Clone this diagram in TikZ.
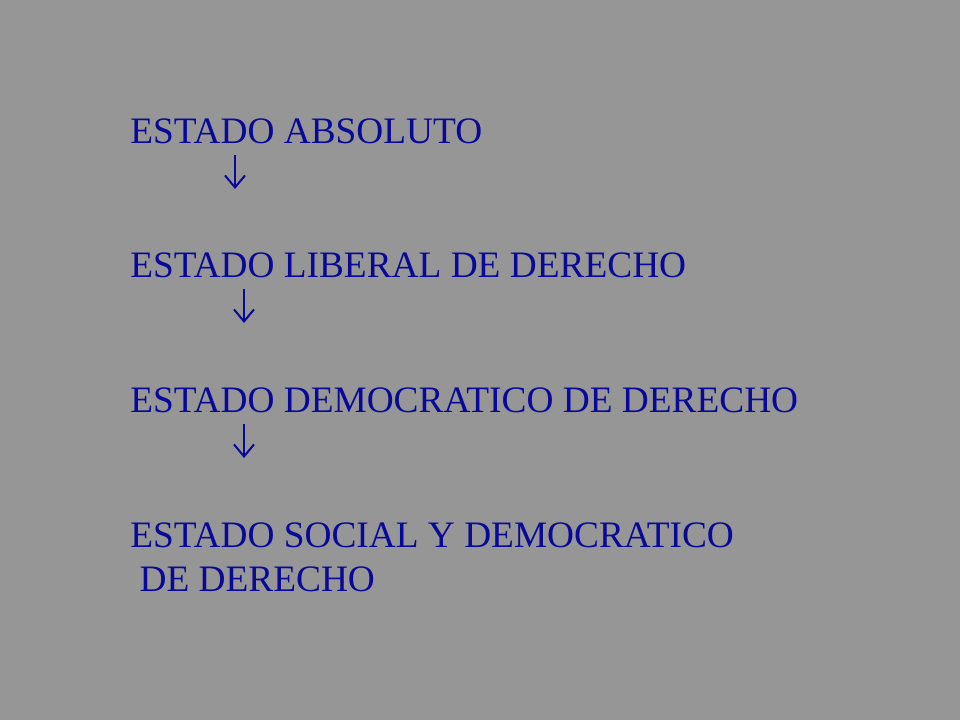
\documentclass[tikz,border=0pt]{standalone}
\usepackage{fontspec}
\setmainfont{Liberation Serif}
\usetikzlibrary{arrows.meta}
\definecolor{bg}{RGB}{150,150,150}
\definecolor{tx}{RGB}{8,8,153}
\begin{document}
\begin{tikzpicture}[x=0.75pt,y=-0.75pt,
  lbl/.style={anchor=base west,inner sep=0pt,text=tx,font=\fontsize{28}{30}\selectfont},
  arr/.style={draw=tx,line width=1.5pt,-{Straight Barb[length=9pt,width=15pt,line width=1.5pt]}}]
\fill[bg] (0,0) rectangle (960,720);
\useasboundingbox (0,0) rectangle (960,720);
\node[lbl] (t1) at (130,144) {ESTADO ABSOLUTO};
\node[lbl] (t2) at (130,277) {ESTADO LIBERAL DE DERECHO};
\node[lbl] (t3) at (130,412) {ESTADO DEMOCRATICO DE DERECHO};
\node[lbl] (t4) at (130,547) {ESTADO SOCIAL Y DEMOCRATICO};
\node[lbl] (t5) at (130,591) {\ DE DERECHO};
\coordinate (a1s) at (235,155); \coordinate (a1e) at (235,189);
\coordinate (a2s) at (244,289); \coordinate (a2e) at (244,323);
\coordinate (a3s) at (244,424); \coordinate (a3e) at (244,458);
\draw[arr] (a1s) -- (a1e);
\draw[arr] (a2s) -- (a2e);
\draw[arr] (a3s) -- (a3e);
\end{tikzpicture}
\end{document}
